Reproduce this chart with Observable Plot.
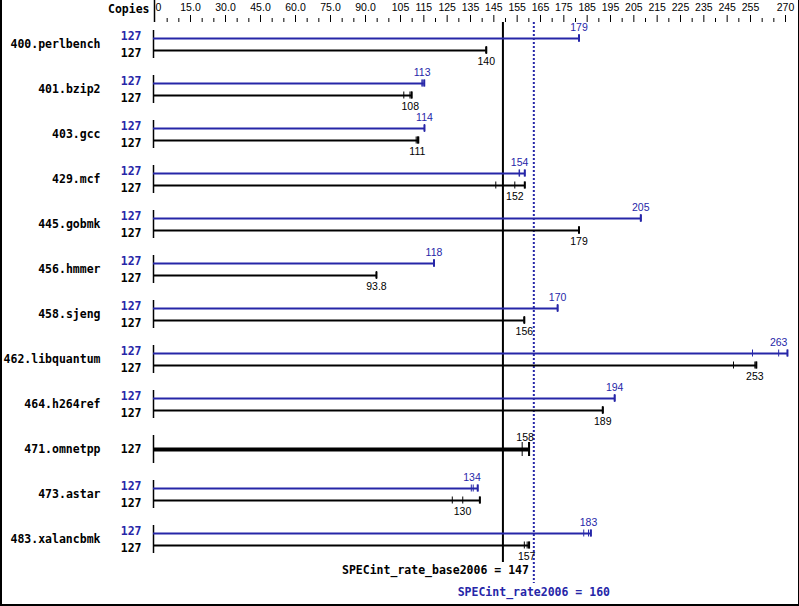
<!DOCTYPE html>
<html><head><meta charset="utf-8">
<script src="https://cdn.jsdelivr.net/npm/d3@7"></script>
<script src="https://cdn.jsdelivr.net/npm/@observablehq/plot@0.6"></script>
<style>
body{margin:0;background:#fff}
#wrap{position:relative;width:799px;height:606px;overflow:hidden;background:#fff}
#wrap svg{position:absolute;left:0;top:0}
#frame{position:absolute;left:0;top:0;width:799px;height:606px;box-sizing:border-box;border-left:2px solid #000;border-right:1px solid #000;border-bottom:2px solid #000;pointer-events:none}
</style></head><body><div id="wrap"><div id="frame"></div></div>
<script>
// ---- data ----
const benchmarks = ["400.perlbench","401.bzip2","403.gcc","429.mcf","445.gobmk","456.hmmer","458.sjeng","462.libquantum","464.h264ref","471.omnetpp","473.astar","483.xalancbmk"];
const copies = [127,127,127,127,127,127,127,127,127,127,127,127];
const peakValues = [179,113,114,154,205,118,170,263,194,null,134,183];
const baseValues = [140,108,111,152,179,93.8,156,253,189,158,130,157];
const peakRuns = [[179,179,179],[113,113,113.9],[114,114,114],[153.8,154,156.2],[205,205,205],[118,118,118],[170,170,170],[252,263,266.7],[194,194,194],null,[133.7,134.5,136.4],[181,183,184]];
const baseRuns = [[140,140,140],[105.3,107.9,108.6],[110.5,111,111.4],[144,152,156.2],[179,179,179],[93.8,93.8,93.8],[156,156,156],[244,253,253.6],[189,189,189],[155.1,158,158],[125.7,130.1,137.3],[156,157.2,158]];
const baseMetric = 147, peakMetric = 160;
const baseMetricLabel = "SPECint_rate_base2006 = 147";
const peakMetricLabel = "SPECint_rate2006 = 160";
const tickValues = [0,15,30,45,60,75,90,105,115,125,135,145,155,165,175,185,195,205,215,225,235,245,255,270];
const tickLabels = ["0","15.0","30.0","45.0","60.0","75.0","90.0","105","115","125","135","145","155","165","175","185","195","205","215","225","235","245","255","270"];
const minorTicks = [5,10,20,25,35,40,50,55,65,70,80,85,95,100,110,120,130,140,150,160,170,180,190,200,210,220,230,240,250,260,265];

// ---- styles ----
const BLUE = "#2626a8";
const MONO = "DejaVu Sans Mono";
const SANS = "Liberation Sans";

const rows = benchmarks.map((name,i)=>({name, copies: copies[i], peak: peakValues[i], base: baseValues[i], peakRuns: peakRuns[i], baseRuns: baseRuns[i]}));
const both = rows.filter(r => r.peak != null);
const baseOnly = rows.filter(r => r.peak == null);
const peakTicks = both.flatMap(r => r.peakRuns.map(v => ({name: r.name, v})));
const baseTicks = both.flatMap(r => r.baseRuns.map(v => ({name: r.name, v})));
const onlyTicks = baseOnly.flatMap(r => r.baseRuns.map(v => ({name: r.name, v})));
const fmt = v => String(v);

const main = Plot.plot({
  width: 799, height: 606,
  marginLeft: 153, marginRight: 4.2, marginTop: 22, marginBottom: 23,
  style: {background: "transparent", overflow: "visible"},
  x: {domain: [0, 270], axis: null},
  y: {type: "band", domain: benchmarks, range: [21.5, 561.5], padding: 0, round: false, axis: null},
  marks: [
    // row start markers
    Plot.ruleX(rows, {x: d => 0, y1: "name", y2: "name", insetTop: 8.5, insetBottom: 8.5, stroke: "#000", strokeWidth: 1.5}),
    // reference lines
    Plot.ruleX([baseMetric], {x: d => d, stroke: "#000", strokeWidth: 2, insetBottom: 21}),
    Plot.ruleX([peakMetric], {x: d => d, stroke: BLUE, strokeWidth: 2, strokeDasharray: "2,2"}),
    // peak bars
    Plot.ruleY(both, {y: "name", x1: d => 0, x2: d => d3.max(d.peakRuns), dy: -6, stroke: BLUE, strokeWidth: 2}),
    Plot.ruleX(peakTicks, {x: "v", y1: "name", y2: "name", insetTop: 13, insetBottom: 25, stroke: BLUE, strokeWidth: 1}),
    Plot.ruleX(both, {x: d => d3.max(d.peakRuns), y1: "name", y2: "name", insetTop: 13, insetBottom: 25, stroke: BLUE, strokeWidth: 2}),
    // base bars
    Plot.ruleY(both, {y: "name", x1: d => 0, x2: d => d3.max(d.baseRuns), dy: 6, stroke: "#000", strokeWidth: 2}),
    Plot.ruleX(baseTicks, {x: "v", y1: "name", y2: "name", insetTop: 25, insetBottom: 13, stroke: "#000", strokeWidth: 1}),
    Plot.ruleX(both, {x: d => d3.max(d.baseRuns), y1: "name", y2: "name", insetTop: 25, insetBottom: 13, stroke: "#000", strokeWidth: 2}),
    // base-only (thick)
    Plot.ruleY(baseOnly, {y: "name", x1: d => 0, x2: d => d3.max(d.baseRuns), stroke: "#000", strokeWidth: 4}),
    Plot.ruleX(onlyTicks, {x: "v", y1: "name", y2: "name", insetTop: 15.5, insetBottom: 15.5, stroke: "#000", strokeWidth: 1}),
    Plot.ruleX(baseOnly, {x: d => d3.max(d.baseRuns), y1: "name", y2: "name", insetTop: 15.5, insetBottom: 15.5, stroke: "#000", strokeWidth: 2}),
    // value labels
    Plot.text(both, {x: "peak", y: "name", text: d => fmt(d.peak), dy: -17, fill: BLUE, fontFamily: SANS, fontSize: 10.5}),
    Plot.text(both, {x: "base", y: "name", text: d => fmt(d.base), dy: 17, fill: "#000", fontFamily: SANS, fontSize: 10.5}),
    Plot.text(baseOnly, {x: "base", y: "name", text: d => fmt(d.base), dy: -12, dx: -4, fill: "#000", fontFamily: SANS, fontSize: 10.5}),
    // copies labels
    Plot.text(both, {y: "name", frameAnchor: "left", text: d => String(d.copies), dx: -12, dy: -8, textAnchor: "end", fill: BLUE, fontFamily: MONO, fontWeight: "bold", fontSize: 11.5}),
    Plot.text(both, {y: "name", frameAnchor: "left", text: d => String(d.copies), dx: -12, dy: 9, textAnchor: "end", fill: "#000", fontFamily: MONO, fontWeight: "bold", fontSize: 11.5}),
    Plot.text(baseOnly, {y: "name", frameAnchor: "left", text: d => String(d.copies), dx: -12, dy: 0, textAnchor: "end", fill: "#000", fontFamily: MONO, fontWeight: "bold", fontSize: 11.5}),
    // benchmark names
    Plot.text(rows, {y: "name", frameAnchor: "left", text: "name", dx: -53, dy: 0, textAnchor: "end", fill: "#000", fontFamily: MONO, fontWeight: "bold", fontSize: 11.5}),
    // metric labels
    Plot.text([baseMetric], {x: d => d, frameAnchor: "bottom", text: d => baseMetricLabel, dx: 26, dy: -10, textAnchor: "end", fill: "#000", fontFamily: MONO, fontWeight: "bold", fontSize: 11.5}),
    Plot.text([peakMetric], {x: d => d, frameAnchor: "bottom", text: d => peakMetricLabel, dy: 12, textAnchor: "middle", fill: BLUE, fontFamily: MONO, fontWeight: "bold", fontSize: 11.5})
  ]
});

const axisPlot = Plot.plot({
  width: 799, height: 24,
  marginLeft: 155, marginRight: 14, marginTop: 0, marginBottom: 0,
  style: {background: "transparent", overflow: "visible"},
  x: {domain: [0, 270], axis: null},
  y: {domain: [0, 24], range: [0, 24], axis: null},
  marks: [
    Plot.ruleX([0], {x: d => d, y1: d => 0, y2: d => 22, dx: -1, stroke: "#000", strokeWidth: 1.5}),
    Plot.ruleX(tickValues.slice(1), {x: d => d, y1: d => 15, y2: d => 22, stroke: "#000", strokeWidth: 1}),
    Plot.ruleX(minorTicks, {x: d => d, y1: d => 18, y2: d => 22, stroke: "#000", strokeWidth: 1}),
    Plot.text(tickValues.slice(1), {x: d => d, y: d => 7, text: (d, i) => tickLabels[i + 1], fill: "#000", fontFamily: SANS, fontSize: 10.5}),
    Plot.text(tickValues.slice(0, 1), {x: d => d, y: d => 7, text: (d, i) => tickLabels[i], dx: 3, fill: "#000", fontFamily: SANS, fontSize: 10.5}),
    Plot.text(["Copies"], {x: d => 0, y: d => 9, text: d => d, dx: -6, textAnchor: "end", fill: "#000", fontFamily: MONO, fontWeight: "bold", fontSize: 11.5})
  ]
});

const wrap = document.getElementById("wrap");
wrap.insertBefore(main, wrap.firstChild);
wrap.insertBefore(axisPlot, main.nextSibling);
</script>
</body></html>
